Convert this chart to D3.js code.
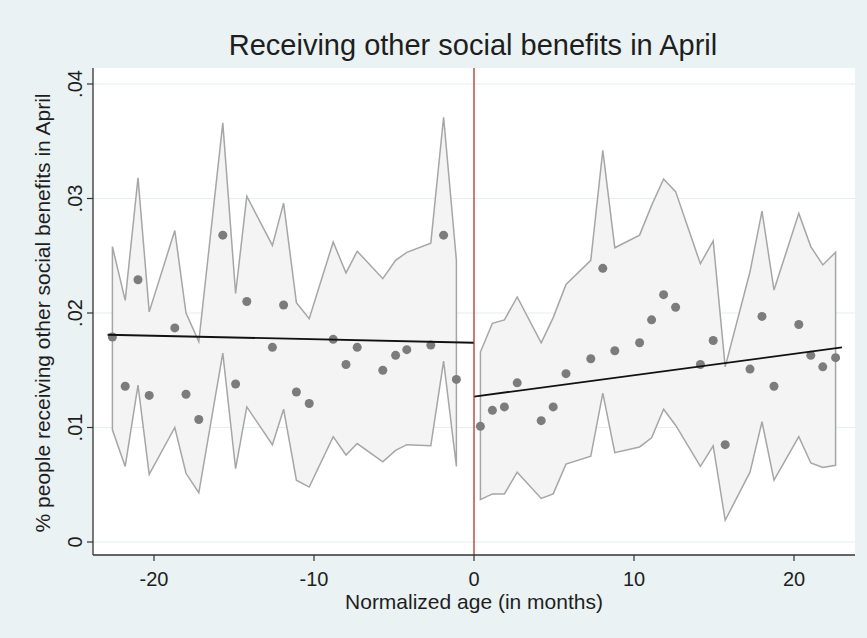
<!DOCTYPE html>
<html>
<head>
<meta charset="utf-8">
<script src="https://cdn.jsdelivr.net/npm/d3@7/dist/d3.min.js"></script>
<style>
  html, body { margin: 0; padding: 0; background: #eaf2f3; }
  svg { display: block; }
  text { font-family: "Liberation Sans", Arial, Helvetica, sans-serif; fill: #1e1e1e; }
</style>
</head>
<body>
<svg id="chart" width="867" height="638"></svg>
<script>
// Binned means with 95% confidence bands, before (left) and after (right) the cutoff
const leftX = [-22.6, -21.8, -21.0, -20.3, -18.7, -18.0, -17.2, -15.7, -14.9, -14.2, -12.6, -11.9,
               -11.1, -10.3, -8.8, -8.0, -7.3, -5.7, -4.9, -4.2, -2.7, -1.9, -1.1];
const leftMean = [0.0179, 0.0136, 0.0229, 0.0128, 0.0187, 0.0129, 0.0107, 0.0268, 0.0138, 0.0210, 0.0170, 0.0207,
                  0.0131, 0.0121, 0.0177, 0.0155, 0.0170, 0.0150, 0.0163, 0.0168, 0.0172, 0.0268, 0.0142];
const leftUpper = [0.0258, 0.0211, 0.0318, 0.0201, 0.0272, 0.0200, 0.0175, 0.0366, 0.0217, 0.0302, 0.0259, 0.0296,
                   0.0209, 0.0195, 0.0262, 0.0235, 0.0254, 0.0230, 0.0246, 0.0253, 0.0261, 0.0371, 0.0246];
const leftLower = [0.0098, 0.0066, 0.0137, 0.0059, 0.0100, 0.0060, 0.0043, 0.0165, 0.0064, 0.0118, 0.0085, 0.0116,
                   0.0054, 0.0048, 0.0092, 0.0076, 0.0086, 0.0070, 0.0080, 0.0085, 0.0084, 0.0158, 0.0066];

const rightX = [0.4, 1.15, 1.9, 2.7, 4.2, 4.95, 5.75, 7.3, 8.05, 8.8, 10.35, 11.1,
                11.85, 12.6, 14.15, 14.95, 15.7, 17.25, 18.0, 18.75, 20.3, 21.05, 21.8, 22.6];
const rightMean = [0.0101, 0.0115, 0.0118, 0.0139, 0.0106, 0.0118, 0.0147, 0.0160, 0.0239, 0.0167, 0.0174, 0.0194,
                   0.0216, 0.0205, 0.0155, 0.0176, 0.0085, 0.0151, 0.0197, 0.0136, 0.0190, 0.0163, 0.0153, 0.0161];
const rightUpper = [0.0166, 0.0191, 0.0194, 0.0214, 0.0174, 0.0196, 0.0225, 0.0246, 0.0342, 0.0257, 0.0268, 0.0294,
                    0.0317, 0.0306, 0.0243, 0.0263, 0.0153, 0.0236, 0.0289, 0.0220, 0.0287, 0.0258, 0.0242, 0.0253];
const rightLower = [0.0037, 0.0042, 0.0042, 0.0061, 0.0038, 0.0042, 0.0068, 0.0075, 0.0130, 0.0078, 0.0083, 0.0091,
                    0.0116, 0.0102, 0.0066, 0.0084, 0.0019, 0.0061, 0.0105, 0.0054, 0.0092, 0.0069, 0.0065, 0.0067];

// Linear fits on each side of the cutoff (endpoints)
const leftFitX = [-22.9, 0];
const leftFitY = [0.0181, 0.0174];
const rightFitX = [0, 23.0];
const rightFitY = [0.0127, 0.0170];

const cutoff = 0;
const xTicks = [-20, -10, 0, 10, 20];
const yTicks = [0, 0.01, 0.02, 0.03, 0.04];
const yTickLabels = ["0", ".01", ".02", ".03", ".04"];

const titleText = "Receiving other social benefits in April";
const xTitle = "Normalized age (in months)";
const yTitle = "% people receiving other social benefits in April";

// Layout
const W = 867, H = 638;
const plotLeft = 93, plotRight = 855, plotTop = 68, plotBottom = 555;

const svg = d3.select("#chart");

const x = d3.scaleLinear().domain([-23.8125, 23.8125]).range([plotLeft, plotRight]);
const y = d3.scaleLinear().domain([0, 0.04]).range([542, 84]);

// Graph region background
svg.append("rect").attr("x", 0).attr("y", 0).attr("width", W).attr("height", H).attr("fill", "#eaf2f3");
// Plot region
svg.append("rect")
  .attr("x", plotLeft).attr("y", plotTop)
  .attr("width", plotRight - plotLeft).attr("height", plotBottom - plotTop)
  .attr("fill", "#ffffff");

// Horizontal grid lines
svg.append("g").selectAll("line").data(yTicks).join("line")
  .attr("x1", plotLeft).attr("x2", plotRight)
  .attr("y1", d => y(d)).attr("y2", d => y(d))
  .attr("stroke", "#e6eef0").attr("stroke-width", 1.2);

// Confidence bands
function band(xs, lo, hi) {
  return xs.map((v, i) => ({ x: v, lo: lo[i], hi: hi[i] }));
}
const area = d3.area().x(d => x(d.x)).y0(d => y(d.lo)).y1(d => y(d.hi));
const outline = rows => {
  // closed outline: upper edge left to right, lower edge right to left
  const pts = rows.map(r => [x(r.x), y(r.hi)])
    .concat(rows.slice().reverse().map(r => [x(r.x), y(r.lo)]));
  return d3.line()(pts) + "Z";
};
[band(leftX, leftLower, leftUpper), band(rightX, rightLower, rightUpper)].forEach(rows => {
  svg.append("path").attr("d", area(rows)).attr("fill", "#f4f4f4");
  svg.append("path").attr("d", outline(rows))
    .attr("fill", "none").attr("stroke", "#a6a6a6").attr("stroke-width", 1.5)
    .attr("stroke-linejoin", "miter");
});

// Bin means
const pts = leftX.map((v, i) => ({ x: v, y: leftMean[i] }))
  .concat(rightX.map((v, i) => ({ x: v, y: rightMean[i] })));
svg.append("g").selectAll("circle").data(pts).join("circle")
  .attr("cx", d => x(d.x)).attr("cy", d => y(d.y)).attr("r", 4.5)
  .attr("fill", "#7c7c7c");

// Fitted lines
const fitLine = d3.line().x(d => x(d[0])).y(d => y(d[1]));
[[leftFitX, leftFitY], [rightFitX, rightFitY]].forEach(([fx, fy]) => {
  svg.append("path").attr("d", fitLine(fx.map((v, i) => [v, fy[i]])))
    .attr("fill", "none").attr("stroke", "#111111").attr("stroke-width", 1.8);
});

// Cutoff line
svg.append("line")
  .attr("x1", x(cutoff)).attr("x2", x(cutoff))
  .attr("y1", plotTop).attr("y2", plotBottom)
  .attr("stroke", "#b8312f").attr("stroke-width", 1.3);

// Axes
const axisColor = "#333333";
svg.append("line").attr("x1", plotLeft).attr("x2", plotLeft).attr("y1", plotTop).attr("y2", plotBottom)
  .attr("stroke", axisColor).attr("stroke-width", 1.3);
svg.append("line").attr("x1", plotLeft).attr("x2", plotRight).attr("y1", plotBottom).attr("y2", plotBottom)
  .attr("stroke", axisColor).attr("stroke-width", 1.3);

// Y ticks and rotated labels
const yAxisG = svg.append("g");
yAxisG.selectAll("line").data(yTicks).join("line")
  .attr("x1", plotLeft - 6).attr("x2", plotLeft)
  .attr("y1", d => y(d)).attr("y2", d => y(d))
  .attr("stroke", axisColor).attr("stroke-width", 1.2);
yAxisG.selectAll("text").data(yTicks).join("text")
  .attr("transform", d => `translate(82,${y(d)}) rotate(-90)`)
  .attr("text-anchor", "middle")
  .attr("font-size", 20)
  .text((d, i) => yTickLabels[i]);

// X ticks and labels
const xAxisG = svg.append("g");
xAxisG.selectAll("line").data(xTicks).join("line")
  .attr("x1", d => x(d)).attr("x2", d => x(d))
  .attr("y1", plotBottom).attr("y2", plotBottom + 6)
  .attr("stroke", axisColor).attr("stroke-width", 1.2);
xAxisG.selectAll("text").data(xTicks).join("text")
  .attr("x", d => x(d)).attr("y", 586)
  .attr("text-anchor", "middle")
  .attr("font-size", 20)
  .text(d => d);

// Titles
svg.append("text").attr("x", 473).attr("y", 55)
  .attr("text-anchor", "middle").attr("font-size", 29)
  .text(titleText);
svg.append("text").attr("x", x(0)).attr("y", 609)
  .attr("text-anchor", "middle").attr("font-size", 21)
  .text(xTitle);
svg.append("text")
  .attr("transform", `translate(50,${(y(0) + y(0.04)) / 2}) rotate(-90)`)
  .attr("text-anchor", "middle").attr("font-size", 21)
  .text(yTitle);
</script>
</body>
</html>
